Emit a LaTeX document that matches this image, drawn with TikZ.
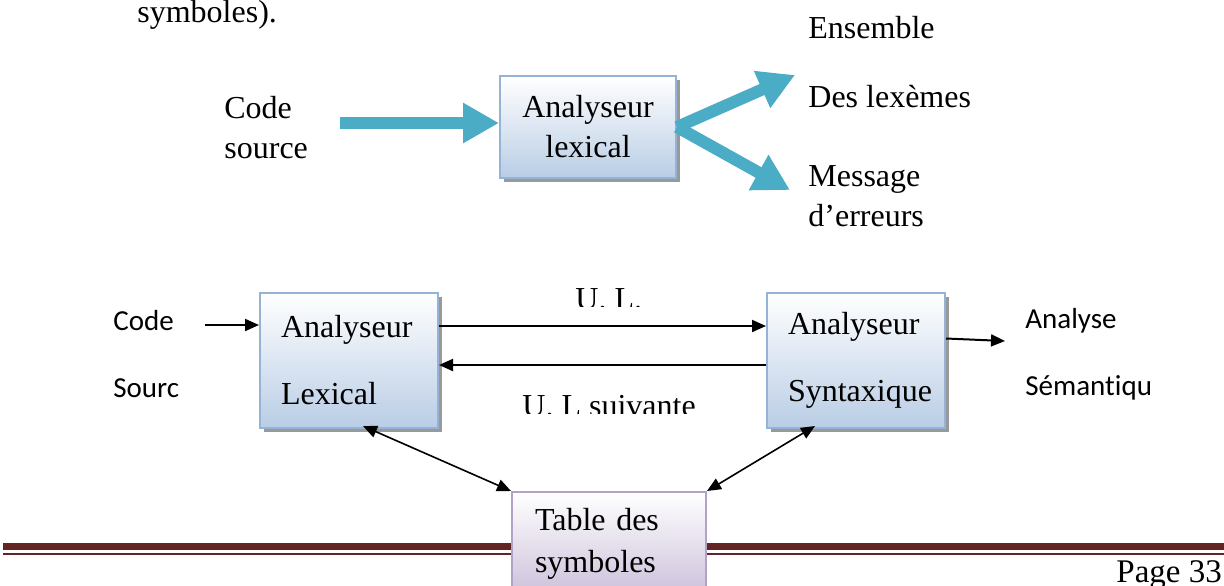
\documentclass[tikz,border=0pt]{standalone}
\usepackage{fontspec}
\setmainfont{Liberation Serif}
\newfontfamily\calibri[Ligatures=NoCommon]{Carlito}
\usetikzlibrary{arrows.meta,shadows}
\definecolor{boxblue}{HTML}{B9CDE5}
\definecolor{boxedge}{HTML}{95B3D7}
\definecolor{lilac}{HTML}{CCC0DA}
\definecolor{lilacedge}{HTML}{B3A2C7}
\definecolor{arrowteal}{HTML}{4BACC6}
\definecolor{footred}{HTML}{632523}
\begin{document}
\begin{tikzpicture}[x=0.5pt,y=-0.5pt,
  txt/.style={font=\fontsize{16}{20}\selectfont, inner sep=0pt, anchor=west},
  sans/.style={font=\calibri\fontsize{14.5}{17}\selectfont, inner sep=0pt, anchor=west},
  anabox/.style={draw=boxedge, line width=1pt, top color=white, bottom color=boxblue,
    drop shadow={shadow xshift=2pt, shadow yshift=-2pt, fill=black!40, opacity=1},
    font=\fontsize{16}{20}\selectfont},
  tablebox/.style={draw=lilacedge, line width=1pt, top color=white, bottom color=lilac,
    font=\fontsize{16}{20}\selectfont, align=left},
  thickarrow/.style={arrowteal, line width=6pt, -{Triangle[length=18pt,width=19pt]}},
  thinarrow/.style={line width=1pt, -{Triangle[length=7pt,width=6pt]}},
  dblarrow/.style={line width=0.8pt, {Triangle[length=7pt,width=6pt]}-{Triangle[length=7pt,width=6pt]}}]
  \useasboundingbox (0,0) rectangle (1224,585);
  \clip (0,0) rectangle (1224,585);
  \node[txt, anchor=base west] (prev) at (137,22) {symboles).};
  \node[txt, align=left] (codetop) at (224,128) {Code\\source};
  \node[anabox, minimum width=88pt, minimum height=51pt, align=center] (lex) at (588,127) {Analyseur\\lexical};
  \node[txt] (ens) at (808,28) {Ensemble};
  \node[txt] (lexemes) at (808,97) {Des lexèmes};
  \node[txt, align=left] (msg) at (808,196) {Message\\d’erreurs};
  \coordinate (srcA) at (340,123);
  \coordinate (lexout) at (795,75);
  \coordinate (errout) at (790,190);
  \draw[thickarrow] (srcA) -- ([yshift=2pt]lex.west);
  \draw[thickarrow] (lex.east) -- (lexout);
  \draw[thickarrow] (lex.east) -- (errout);

  \node[sans] (codeB) at (113,321) {Code};
  \node[sans] (sourcB) at (113,388) {Sourc};
  \node[anabox, minimum width=89pt, minimum height=67.5pt, text width=68pt, inner xsep=10.5pt, align=left] (lexb) at (349,360.5) {Analyseur\\[13.5pt]Lexical};
  \node[anabox, minimum width=89pt, minimum height=67.5pt, text width=68pt, inner xsep=10.5pt, align=left] (syn) at (856,360.5) {Analyseur\\[13.5pt]Syntaxique};
  \node[sans] (ana) at (1025,321) {Analyse};
  \node[sans] (sem) at (1025,388) {Sémantiqu};
  \begin{scope}
    \clip (450,270) rectangle (760,306.5);
    \node[txt, anchor=base west] (ul) at (575,309) {U. L.};
  \end{scope}
  \begin{scope}
    \clip (450,380) rectangle (760,413);
    \node[txt, anchor=base west] (ulnext) at (522,416) {U. L suivante};
  \end{scope}
  \coordinate (srcB) at (205,325);
  \coordinate (semin) at (1005,341);
  \draw[thinarrow] (srcB) -- ([yshift=17.75pt]lexb.west);
  \draw[thinarrow] ([yshift=17.25pt]lexb.east) -- ([yshift=17.25pt]syn.west);
  \draw[thinarrow] ([yshift=-2.25pt]syn.west) -- ([yshift=-2.25pt]lexb.east);
  \draw[thinarrow] ([yshift=11pt]syn.east) -- (semin);

  \draw[footred, line width=3.5pt] (3,546.5) -- (1224,546.5);
  \draw[footred, line width=1pt] (3,554) -- (1224,554);
  \node[tablebox, minimum width=97pt, minimum height=52pt, text width=74pt, inner xsep=11.5pt] (tab) at (609,544) {Table des\\[1pt]symboles};
  \draw[dblarrow] ([xshift=7pt,yshift=1.5pt]lexb.south) -- (tab.north west);
  \draw[dblarrow] ([xshift=-20.5pt,yshift=1.5pt]syn.south) -- (tab.north east);
  \node[txt, anchor=base west, font=\fontsize{16.5}{20}\selectfont] (page) at (1116,582) {Page 33};
\end{tikzpicture}
\end{document}
